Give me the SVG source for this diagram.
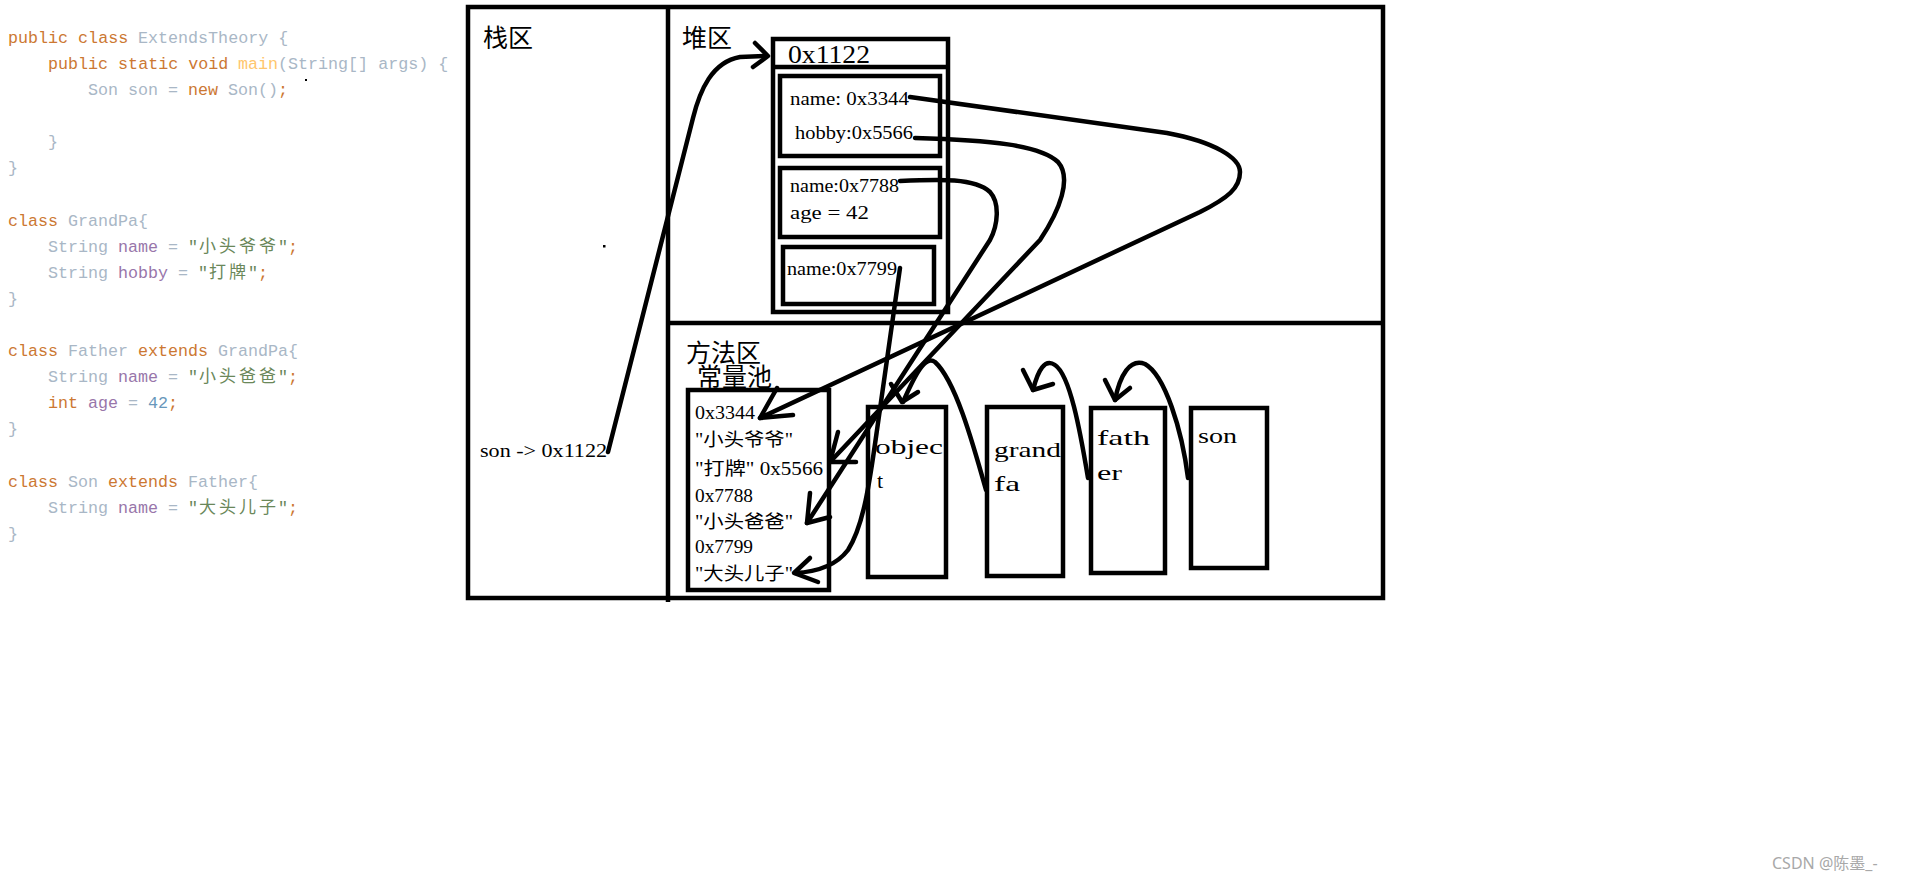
<svg xmlns="http://www.w3.org/2000/svg" width="1914" height="887" viewBox="0 0 1914 887">
<style>
.code{font-family:"Liberation Mono","Noto Sans CJK SC",monospace;font-size:16.7px}
.cj{font-family:"Noto Sans CJK SC",sans-serif;font-size:17px}
.kw{fill:#cc7832}.pl{fill:#a9b7c6}.me{fill:#ffc66d}.fd{fill:#9876aa}.st{fill:#6a8759}.nu{fill:#6897bb}
.box{fill:none;stroke:#000;stroke-width:4.5}
.t{font-family:"Liberation Serif","Noto Sans CJK SC",serif;fill:#000}
.h{font-family:"Noto Sans CJK SC",sans-serif;font-size:25px;fill:#000}
.f{font-size:18px}
.c{font-size:22px}
.ln{fill:none;stroke:#000;stroke-width:4.5;stroke-linecap:round;stroke-linejoin:round}
</style>
<rect width="1914" height="887" fill="#fff"/>
<g id="code">
<text class="code" y="43"><tspan x="8" class="kw">public class</tspan><tspan x="138" class="pl">ExtendsTheory {</tspan></text>
<text class="code" y="69"><tspan x="48" class="kw">public static void</tspan><tspan x="238" class="me">main</tspan><tspan x="278" class="pl">(String[] args) {</tspan></text>
<text class="code" y="95"><tspan x="88" class="pl">Son son =</tspan><tspan x="188" class="kw">new</tspan><tspan x="228" class="pl">Son()</tspan><tspan x="278" class="kw">;</tspan></text>
<text class="code pl" x="48" y="147">}</text>
<text class="code pl" x="8" y="173">}</text>
<text class="code" y="226"><tspan x="8" class="kw">class</tspan><tspan x="68" class="pl">GrandPa{</tspan></text>
<text class="code" y="252"><tspan x="48" class="pl">String</tspan><tspan x="118" class="fd">name</tspan><tspan x="168" class="pl">=</tspan><tspan x="188" class="st">"</tspan><tspan class="cj st" x="199 219 239 259">小头爷爷</tspan><tspan x="278" class="st">"</tspan><tspan x="288" class="kw">;</tspan></text>
<text class="code" y="278"><tspan x="48" class="pl">String</tspan><tspan x="118" class="fd">hobby</tspan><tspan x="178" class="pl">=</tspan><tspan x="198" class="st">"</tspan><tspan class="cj st" x="209 229">打牌</tspan><tspan x="248" class="st">"</tspan><tspan x="258" class="kw">;</tspan></text>
<text class="code pl" x="8" y="304">}</text>
<text class="code" y="356"><tspan x="8" class="kw">class</tspan><tspan x="68" class="pl">Father</tspan><tspan x="138" class="kw">extends</tspan><tspan x="218" class="pl">GrandPa{</tspan></text>
<text class="code" y="382"><tspan x="48" class="pl">String</tspan><tspan x="118" class="fd">name</tspan><tspan x="168" class="pl">=</tspan><tspan x="188" class="st">"</tspan><tspan class="cj st" x="199 219 239 259">小头爸爸</tspan><tspan x="278" class="st">"</tspan><tspan x="288" class="kw">;</tspan></text>
<text class="code" y="408"><tspan x="48" class="kw">int</tspan><tspan x="88" class="fd">age</tspan><tspan x="128" class="pl">=</tspan><tspan x="148" class="nu">42</tspan><tspan x="168" class="kw">;</tspan></text>
<text class="code pl" x="8" y="434">}</text>
<text class="code" y="487"><tspan x="8" class="kw">class</tspan><tspan x="68" class="pl">Son</tspan><tspan x="108" class="kw">extends</tspan><tspan x="188" class="pl">Father{</tspan></text>
<text class="code" y="513"><tspan x="48" class="pl">String</tspan><tspan x="118" class="fd">name</tspan><tspan x="168" class="pl">=</tspan><tspan x="188" class="st">"</tspan><tspan class="cj st" x="199 219 239 259">大头儿子</tspan><tspan x="278" class="st">"</tspan><tspan x="288" class="kw">;</tspan></text>
<text class="code pl" x="8" y="539">}</text>
<rect x="305" y="79" width="2" height="2" fill="#000"/>
</g>
<g id="frame">
<rect class="box" x="468" y="7" width="915" height="591"/>
<line class="box" x1="668" y1="7" x2="668" y2="602"/>
<line class="box" x1="668" y1="323" x2="1383" y2="323"/>
<text class="h" x="483" y="47">栈区</text>
<text class="h" x="682" y="47">堆区</text>
<text class="h" x="686" y="362">方法区</text>
<text class="h" x="697" y="386">常量池</text>
<rect x="603" y="245" width="2.5" height="2.5" fill="#000"/>
</g>
<g id="stack-son">
<text class="t f" x="480" y="457" textLength="127" lengthAdjust="spacingAndGlyphs">son -&gt; 0x1122</text>
</g>
<g id="heap-0x1122">
<rect class="box" x="773" y="39" width="175" height="273"/>
<line class="box" x1="773" y1="67" x2="948" y2="67"/>
<text class="t" x="788" y="63" font-size="26" textLength="82" lengthAdjust="spacingAndGlyphs">0x1122</text>
</g>
<g id="heap-grandpa-fields">
<rect class="box" x="780" y="76" width="160" height="80"/>
<text class="t f" x="790" y="105" textLength="119" lengthAdjust="spacingAndGlyphs">name: 0x3344</text>
<text class="t f" x="795" y="139" textLength="118" lengthAdjust="spacingAndGlyphs">hobby:0x5566</text>
</g>
<g id="heap-father-fields">
<rect class="box" x="780" y="168" width="160" height="69"/>
<text class="t f" x="790" y="192" textLength="109" lengthAdjust="spacingAndGlyphs">name:0x7788</text>
<text class="t f" x="790" y="219" textLength="79" lengthAdjust="spacingAndGlyphs">age = 42</text>
</g>
<g id="heap-son-fields">
<rect class="box" x="783" y="247" width="151" height="57"/>
<text class="t f" x="787" y="275" textLength="110" lengthAdjust="spacingAndGlyphs">name:0x7799</text>
</g>
<g id="constant-pool">
<rect class="box" x="688" y="390" width="141" height="200"/>
<text class="t f" x="695" y="419" textLength="60" lengthAdjust="spacingAndGlyphs">0x3344</text>
<text class="t f" x="695" y="446" textLength="98" lengthAdjust="spacingAndGlyphs">"小头爷爷"</text>
<text class="t f" x="695" y="475" textLength="128" lengthAdjust="spacingAndGlyphs">"打牌" 0x5566</text>
<text class="t f" x="695" y="502" textLength="58" lengthAdjust="spacingAndGlyphs">0x7788</text>
<text class="t f" x="695" y="528" textLength="98" lengthAdjust="spacingAndGlyphs">"小头爸爸"</text>
<text class="t f" x="695" y="553" textLength="58" lengthAdjust="spacingAndGlyphs">0x7799</text>
<text class="t f" x="695" y="580" textLength="98" lengthAdjust="spacingAndGlyphs">"大头儿子"</text>
</g>
<g id="class-object">
<rect class="box" x="868" y="407" width="78" height="170"/>
<text class="t c" x="875" y="454" textLength="68" lengthAdjust="spacingAndGlyphs">objec</text>
<text class="t c" x="877" y="488">t</text>
</g>
<g id="class-grandfa">
<rect class="box" x="987" y="407" width="76" height="169"/>
<text class="t c" x="994" y="457" textLength="67" lengthAdjust="spacingAndGlyphs">grand</text>
<text class="t c" x="994" y="491" textLength="26" lengthAdjust="spacingAndGlyphs">fa</text>
</g>
<g id="class-father">
<rect class="box" x="1091" y="408" width="74" height="165"/>
<text class="t c" x="1097" y="445" textLength="53" lengthAdjust="spacingAndGlyphs">fath</text>
<text class="t c" x="1097" y="480" textLength="25" lengthAdjust="spacingAndGlyphs">er</text>
</g>
<g id="class-son">
<rect class="box" x="1191" y="408" width="76" height="160"/>
<text class="t c" x="1198" y="443" textLength="39" lengthAdjust="spacingAndGlyphs">son</text>
</g>
<g id="connectors">
<path class="ln" d="M608,452 L693,118 C700,90 712,62 740,57 L767,56"/>
<path class="ln" d="M755,43 L768,56 L753,67"/>
<path class="ln" d="M910,97 L1167,133 C1215,142 1240,158 1240,172 C1240,188 1228,198 1200,212 L760,418"/>
<path class="ln" d="M777,388 L760,418 L793,415"/>
<path class="ln" d="M915,138 C990,140 1040,145 1058,162 C1072,178 1060,210 1040,240 L830,462"/>
<path class="ln" d="M838,432 L830,462 L856,462"/>
<path class="ln" d="M900,181 C940,179 975,178 990,192 C1000,203 998,225 990,240 L807,523"/>
<path class="ln" d="M810,493 L807,523 L830,517"/>
<path class="ln" d="M900,268 L877,430 C870,480 864,525 848,550 C835,567 815,572 795,573"/>
<path class="ln" d="M810,558 L794,573 L818,582"/>
<path class="ln" d="M986,490 C972,440 955,380 935,362 C925,355 915,375 903,402"/>
<path class="ln" d="M891,384 L902,402 L918,392"/>
<path class="ln" d="M1088,478 C1080,430 1070,375 1055,365 C1045,358 1038,370 1033,390"/>
<path class="ln" d="M1023,370 L1033,390 L1053,384"/>
<path class="ln" d="M1188,478 C1182,430 1165,375 1145,364 C1130,358 1120,375 1115,400"/>
<path class="ln" d="M1105,380 L1115,400 L1130,388"/>
</g>
<text x="1772" y="869" font-family="'Noto Sans','Noto Sans CJK SC',sans-serif" font-size="16" fill="#a8a8a8">CSDN @陈墨_-</text>
</svg>
